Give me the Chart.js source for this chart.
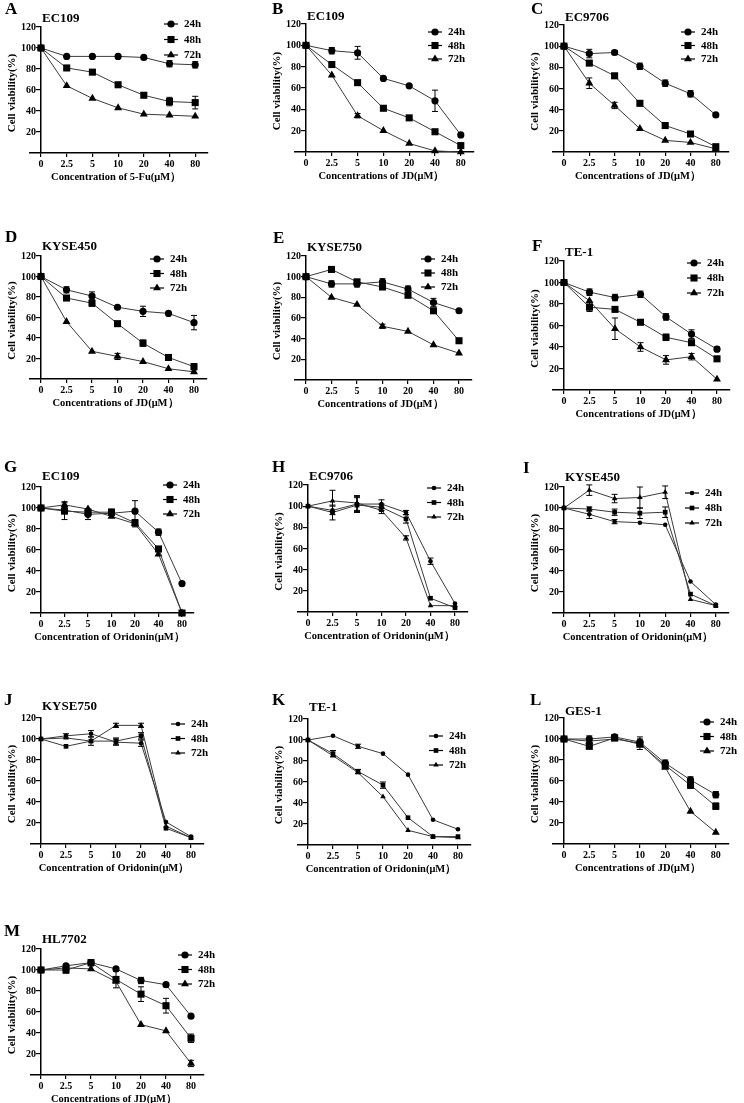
<!DOCTYPE html>
<html>
<head>
<meta charset="utf-8">
<script src="https://cdn.jsdelivr.net/npm/chart.js@4.4.1/dist/chart.umd.min.js"></script>
<style>
  html, body { margin: 0; padding: 0; background: #fff; }
  #fig { position: relative; width: 744px; height: 1103px; overflow: hidden; background: #fff; }
  #fig canvas { position: absolute; left: 0; top: 0; }
</style>
</head>
<body>
<div id="fig"></div>
<script>
const concLabels = ['0', '2.5', '5', '10', '20', '40', '80'];
const yTicks = [20, 40, 60, 80, 100, 120];
const seriesNames = ['24h', '48h', '72h'];

const xt5Fu = 'Concentration of 5-Fu(μM）';
const xtJD = 'Concentrations of JD(μM）';
const xtOri = 'Concentration of Oridonin(μM）';

// A  EC109 / 5-Fu
const A24 = [100, 92, 92, 92, 91, 85, 84];
const A48 = [100, 81, 77, 65, 55, 49, 48];
const A72 = [100, 64, 52, 43, 37, 36, 35];
const A24e = [0, 0, 0, 0, 0, 3, 3];
const A48e = [0, 2, 0, 0, 0, 4, 6];
const A72e = [0, 0, 0, 0, 0, 0, 0];
// B  EC109 / JD
const B24 = [100, 95, 93, 69, 62, 48, 16];
const B48 = [100, 82, 65, 41, 32, 19, 6];
const B72 = [100, 72, 34, 20, 8, 1, 0];
const B24e = [0, 3, 6, 0, 0, 10, 0];
const B48e = [0, 0, 0, 0, 0, 0, 0];
const B72e = [0, 0, 2, 0, 0, 0, 0];
// C  EC9706 / JD
const C24 = [100, 93, 94, 81, 65, 55, 35];
const C48 = [100, 84, 72, 46, 25, 17, 5];
const C72 = [100, 65, 44, 22, 11, 9, 3];
const C24e = [0, 4, 2, 3, 3, 3, 0];
const C48e = [0, 2, 0, 0, 0, 0, 0];
const C72e = [0, 5, 3, 0, 0, 0, 0];
// D  KYSE450 / JD
const D24 = [100, 87, 81, 70, 66, 64, 55];
const D48 = [100, 79, 74, 54, 35, 21, 12];
const D72 = [100, 56, 27, 22, 17, 10, 7];
const D24e = [0, 3, 4, 0, 5, 0, 7];
const D48e = [0, 2, 3, 0, 3, 0, 3];
const D72e = [0, 0, 0, 3, 0, 0, 0];
// E  KYSE750 / JD
const E24 = [100, 93, 93, 95, 88, 75, 67];
const E48 = [100, 107, 95, 90, 82, 67, 38];
const E72 = [100, 80, 73, 52, 47, 34, 26];
const E24e = [0, 3, 3, 3, 3, 4, 0];
const E48e = [0, 0, 2, 0, 0, 0, 0];
const E72e = [0, 0, 0, 2, 0, 0, 0];
// F  TE-1 / JD
const F24 = [100, 91, 86, 89, 68, 52, 38];
const F48 = [100, 77, 75, 63, 49, 44, 29];
const F72 = [100, 83, 57, 40, 28, 31, 10];
const F24e = [0, 3, 3, 3, 3, 4, 2];
const F48e = [0, 4, 0, 0, 3, 0, 2];
const F72e = [0, 0, 10, 4, 4, 3, 0];
// G  EC109 / Oridonin
const G24 = [100, 98, 94, 95, 97, 77, 28];
const G48 = [100, 97, 96, 96, 86, 61, 0];
const G72 = [100, 103, 99, 92, 85, 56, 0];
const G24e = [0, 0, 5, 0, 10, 3, 2];
const G48e = [0, 8, 0, 3, 3, 0, 0];
const G72e = [0, 3, 0, 0, 3, 0, 0];
// H  EC9706 / Oridonin
const H24 = [100, 96, 102, 102, 94, 48, 8];
const H48 = [100, 94, 101, 99, 88, 13, 4];
const H72 = [100, 105, 103, 96, 70, 6, 6];
const H24e = [0, 4, 7, 4, 2, 3, 0];
const H48e = [0, 7, 7, 3, 4, 0, 0];
const H72e = [0, 10, 7, 3, 2, 0, 0];
// I  KYSE450 / Oridonin
const I24 = [100, 94, 87, 86, 84, 30, 8];
const I48 = [100, 99, 96, 95, 96, 18, 7];
const I72 = [100, 117, 109, 110, 115, 13, 7];
const I24e = [0, 4, 2, 0, 0, 0, 0];
const I48e = [0, 2, 3, 5, 5, 0, 0];
const I72e = [0, 5, 4, 10, 6, 0, 0];
// J  KYSE750 / Oridonin
const J24 = [100, 103, 105, 97, 96, 21, 7];
const J48 = [100, 93, 98, 98, 103, 15, 6];
const J72 = [100, 101, 98, 113, 113, 17, 6];
const J24e = [0, 2, 3, 3, 3, 0, 0];
const J48e = [0, 0, 4, 3, 3, 0, 0];
const J72e = [0, 0, 0, 2, 2, 0, 0];
// K  TE-1 / Oridonin
const K24 = [100, 104, 94, 87, 67, 24, 15];
const K48 = [100, 87, 70, 57, 26, 8, 8];
const K72 = [100, 85, 69, 46, 14, 8, 7];
const K24e = [0, 0, 2, 0, 0, 0, 0];
const K48e = [0, 3, 2, 3, 0, 0, 0];
const K72e = [0, 0, 0, 0, 0, 0, 0];
// L  GES-1 / JD
const L24 = [100, 100, 102, 97, 77, 61, 47];
const L48 = [100, 93, 101, 95, 75, 56, 36];
const L72 = [100, 98, 100, 96, 73, 31, 11];
const L24e = [0, 3, 2, 3, 3, 3, 3];
const L48e = [0, 0, 0, 0, 0, 3, 3];
const L72e = [0, 0, 0, 6, 0, 0, 0];
// M  HL7702 / JD
const M24 = [100, 104, 107, 101, 90, 86, 56];
const M48 = [100, 100, 107, 91, 77, 66, 35];
const M72 = [100, 102, 101, 89, 48, 42, 11];
const M24e = [0, 0, 0, 0, 3, 0, 0];
const M48e = [0, 3, 3, 8, 7, 7, 4];
const M72e = [0, 0, 0, 0, 0, 0, 3];

// layout of each panel (page pixels)
const panels = [
  {letter:'A', title:'EC109',   xt:xt5Fu, d:[A24,A48,A72], e:[A24e,A48e,A72e], x0:41,  dx:25.7, top:27,  bot:153,  lx:5,   ly:10,  ty:19,  gx:171, gy:24,  gap:15.5, small:false},
  {letter:'B', title:'EC109',   xt:xtJD,  d:[B24,B48,B72], e:[B24e,B48e,B72e], x0:306, dx:25.8, top:24,  bot:152,  lx:272, ly:10,  ty:17,  gx:435, gy:32,  gap:13.5, small:false},
  {letter:'C', title:'EC9706',  xt:xtJD,  d:[C24,C48,C72], e:[C24e,C48e,C72e], x0:564, dx:25.3, top:25,  bot:152,  lx:531, ly:10,  ty:18,  gx:688, gy:32,  gap:13.5, small:false},
  {letter:'D', title:'KYSE450', xt:xtJD,  d:[D24,D48,D72], e:[D24e,D48e,D72e], x0:41,  dx:25.5, top:256, bot:379,  lx:5,   ly:238, ty:247, gx:157, gy:259, gap:14.5, small:false},
  {letter:'E', title:'KYSE750', xt:xtJD,  d:[E24,E48,E72], e:[E24e,E48e,E72e], x0:306, dx:25.5, top:256, bot:380,  lx:273, ly:239, ty:248, gx:428, gy:259, gap:14,   small:false},
  {letter:'F', title:'TE-1',    xt:xtJD,  d:[F24,F48,F72], e:[F24e,F48e,F72e], x0:564, dx:25.5, top:261, bot:390,  lx:532, ly:247, ty:253, gx:694, gy:263, gap:15,   small:false},
  {letter:'G', title:'EC109',   xt:xtOri, d:[G24,G48,G72], e:[G24e,G48e,G72e], x0:41,  dx:23.5, top:487, bot:613,  lx:4,   ly:468, ty:477, gx:170, gy:485, gap:14.5, small:false},
  {letter:'H', title:'EC9706',  xt:xtOri, d:[H24,H48,H72], e:[H24e,H48e,H72e], x0:308, dx:24.5, top:485, bot:612,  lx:272, ly:468, ty:477, gx:434, gy:488, gap:14.5, small:true},
  {letter:'I', title:'KYSE450', xt:xtOri, d:[I24,I48,I72], e:[I24e,I48e,I72e], x0:564, dx:25.3, top:487, bot:613,  lx:523, ly:469, ty:478, gx:692, gy:493, gap:15,   small:true},
  {letter:'J', title:'KYSE750', xt:xtOri, d:[J24,J48,J72], e:[J24e,J48e,J72e], x0:41,  dx:25,   top:718, bot:844,  lx:4,   ly:701, ty:707, gx:178, gy:724, gap:14.5, small:true},
  {letter:'K', title:'TE-1',    xt:xtOri, d:[K24,K48,K72], e:[K24e,K48e,K72e], x0:308, dx:25,   top:719, bot:845,  lx:272, ly:701, ty:708, gx:436, gy:736, gap:14.5, small:true},
  {letter:'L', title:'GES-1',   xt:xtJD,  d:[L24,L48,L72], e:[L24e,L48e,L72e], x0:564, dx:25.3, top:718, bot:844,  lx:530, ly:701, ty:712, gx:707, gy:722, gap:14.5, small:false},
  {letter:'M', title:'HL7702',  xt:xtJD,  d:[M24,M48,M72], e:[M24e,M48e,M72e], x0:41,  dx:25,   top:949, bot:1075, lx:4,   ly:932, ty:940, gx:185, gy:955, gap:14.5, small:false}
];

const serif = '"Liberation Serif", "Times New Roman", serif';

const errorBars = {
  id: 'errorBars',
  afterDatasetsDraw(chart) {
    const { ctx, scales: { x, y } } = chart;
    ctx.save();
    ctx.strokeStyle = '#000';
    ctx.lineWidth = 1;
    chart.data.datasets.forEach(ds => {
      (ds.errors || []).forEach((err, i) => {
        if (!err) return;
        const v = ds.data[i].y;
        const px = x.getPixelForValue(i);
        const hi = y.getPixelForValue(v + err);
        const lo = y.getPixelForValue(Math.max(v - err, 0));
        ctx.beginPath();
        ctx.moveTo(px, hi); ctx.lineTo(px, lo);
        ctx.moveTo(px - 3, hi); ctx.lineTo(px + 3, hi);
        ctx.moveTo(px - 3, lo); ctx.lineTo(px + 3, lo);
        ctx.stroke();
      });
    });
    ctx.restore();
  }
};

function makeDeco(p) {
  return {
    id: 'deco' + p.letter,
    afterDraw(chart) {
      const { ctx, chartArea: area, scales: { x, y } } = chart;
      const x0 = x.getPixelForValue(0);
      ctx.save();
      ctx.fillStyle = '#000';
      ctx.textBaseline = 'middle';
      // y tick labels, left of the axis drawn at x = 0
      ctx.textAlign = 'right';
      ctx.font = 'bold 10px ' + serif;
      y.ticks.forEach(t => ctx.fillText(String(t.value), x0 - 5, y.getPixelForValue(t.value) + 0.5));
      ctx.textAlign = 'left';
      ctx.font = 'bold 17px ' + serif;
      ctx.fillText(p.letter, p.lx, p.ly);
      ctx.font = 'bold 13px ' + serif;
      ctx.fillText(p.title, x0 + 1, p.ty);
      ctx.textAlign = 'center';
      ctx.font = 'bold 10.5px ' + serif;
      ctx.fillText(p.xt, x.getPixelForValue(3) - 2, area.bottom + 24);
      // legend
      ctx.textAlign = 'left';
      ctx.font = 'bold 11px ' + serif;
      chart.data.datasets.forEach((ds, i) => {
        const ly = p.gy + i * p.gap;
        ctx.strokeStyle = '#000';
        ctx.lineWidth = 1.2;
        ctx.beginPath();
        ctx.moveTo(p.gx - 7, ly); ctx.lineTo(p.gx + 7, ly);
        ctx.stroke();
        Chart.helpers.drawPoint(ctx, { pointStyle: ds.pointStyle, radius: ds.pointRadius, rotation: 0, borderWidth: 0 }, p.gx, ly);
        ctx.fillStyle = '#000';
        ctx.fillText(ds.label, p.gx + 13, ly + 0.5);
      });
      // y title
      ctx.translate(x0 - 29, (area.top + area.bottom) / 2 + 3);
      ctx.rotate(-Math.PI / 2);
      ctx.textAlign = 'center';
      ctx.font = 'bold 11px ' + serif;
      ctx.fillText('Cell viability(%)', 0, 0);
      ctx.restore();
    }
  };
}

const fig = document.getElementById('fig');
const styles = ['circle', 'rect', 'triangle'];

panels.forEach(p => {
  const cv = document.createElement('canvas');
  cv.width = 744; cv.height = 1103;
  fig.appendChild(cv);
  const radii = p.small ? [2.3, 3.3, 3.2] : [3.6, 5, 4.6];
  new Chart(cv, {
    type: 'line',
    data: {
      datasets: p.d.map((vals, i) => ({
        label: seriesNames[i],
        data: vals.map((v, j) => ({ x: j, y: v })),
        errors: p.e[i],
        borderColor: '#3a3a3a',
        borderWidth: 1,
        pointStyle: styles[i],
        pointRadius: radii[i],
        pointBackgroundColor: '#000',
        pointBorderWidth: 0,
        tension: 0,
        clip: false
      }))
    },
    options: {
      responsive: false,
      animation: false,
      devicePixelRatio: 1,
      layout: { padding: { left: p.x0 - 0.43 * p.dx, right: 744 - (p.x0 + 6.5 * p.dx), top: p.top, bottom: 1103 - p.bot - 20 } },
      plugins: { legend: { display: false }, tooltip: { enabled: false } },
      scales: {
        x: {
          type: 'linear', min: -0.43, max: 6.5,
          afterBuildTicks: s => { s.ticks = concLabels.map((_, i) => ({ value: i })); },
          afterFit: s => { s.height = 20; },
          grid: { drawOnChartArea: false, tickLength: 4, color: '#000', lineWidth: 1.2 },
          border: { display: true, color: '#000', width: 1.5 },
          ticks: { callback: v => concLabels[v], color: '#000', padding: 1, maxRotation: 0, autoSkip: false,
                   font: { family: serif, weight: 'bold', size: 10 } }
        },
        y: {
          position: { x: 0 }, min: 0, max: 120,
          afterBuildTicks: s => { s.ticks = yTicks.map(v => ({ value: v })); },
          grid: { drawOnChartArea: false, tickLength: 4, color: '#000', lineWidth: 1.2 },
          border: { display: true, color: '#000', width: 1.5 },
          ticks: { display: false }
        }
      }
    },
    plugins: [errorBars, makeDeco(p)]
  });
});
</script>
</body>
</html>
